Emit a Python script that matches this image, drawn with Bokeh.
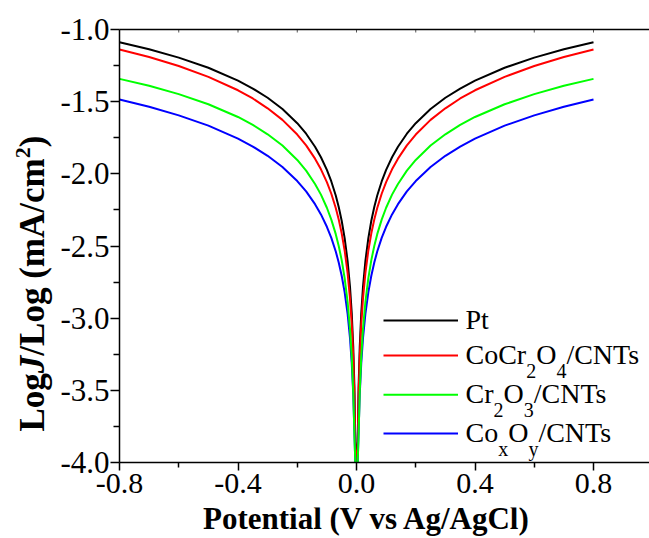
import math
from bokeh.plotting import figure
from bokeh.layouts import column, row
from bokeh.models import Label, LinearAxis, FixedTicker, PrintfTickFormatter, Range1d
from bokeh.embed import file_html
from bokeh.resources import INLINE

# ---------------- data ----------------
potential = [-0.8, -0.7, -0.6, -0.5, -0.4, -0.35, -0.3, -0.25, -0.2, -0.17, -0.14, -0.12,
             -0.1, -0.085, -0.07, -0.06, -0.05, -0.04, -0.03, -0.022, -0.016, -0.011,
             -0.007, -0.004,
             0.0,
             0.004, 0.007, 0.011, 0.016, 0.022, 0.03, 0.04, 0.05, 0.06, 0.07, 0.085,
             0.1, 0.12, 0.14, 0.17, 0.2, 0.25, 0.3, 0.35, 0.4, 0.5, 0.6, 0.7, 0.8]

pt = [-1.088, -1.137, -1.195, -1.265, -1.354, -1.409, -1.473, -1.551, -1.649, -1.722, -1.812, -1.885,
      -1.973, -2.053, -2.150, -2.230, -2.325, -2.445, -2.604, -2.781, -2.968, -3.196,
      -3.483, -3.855,
      -4.000,
      -3.855, -3.483, -3.196, -2.968, -2.781, -2.604, -2.445, -2.325, -2.230, -2.150, -2.053,
      -1.973, -1.885, -1.812, -1.722, -1.649, -1.551, -1.473, -1.409, -1.354, -1.265, -1.195, -1.137, -1.088]

cocr2o4 = [-1.139, -1.191, -1.253, -1.328, -1.421, -1.478, -1.546, -1.626, -1.728, -1.803, -1.895, -1.969,
           -2.058, -2.138, -2.237, -2.316, -2.412, -2.531, -2.688, -2.862, -3.045, -3.268,
           -3.545, -3.903,
           -4.000,
           -3.903, -3.545, -3.268, -3.045, -2.862, -2.688, -2.531, -2.412, -2.316, -2.237, -2.138,
           -2.058, -1.969, -1.895, -1.803, -1.728, -1.626, -1.546, -1.478, -1.421, -1.328, -1.253, -1.191, -1.139]

cr2o3 = [-1.342, -1.390, -1.448, -1.518, -1.606, -1.661, -1.726, -1.804, -1.904, -1.978, -2.070, -2.144,
         -2.235, -2.317, -2.418, -2.500, -2.598, -2.723, -2.888, -3.073, -3.269, -3.509,
         -3.812, -4.000,
         -4.000,
         -4.000, -3.812, -3.509, -3.269, -3.073, -2.888, -2.723, -2.598, -2.500, -2.418, -2.317,
         -2.235, -2.144, -2.070, -1.978, -1.904, -1.804, -1.726, -1.661, -1.606, -1.518, -1.448, -1.390, -1.342]

coxoy = [-1.485, -1.535, -1.595, -1.666, -1.756, -1.811, -1.875, -1.953, -2.050, -2.122, -2.210, -2.281,
         -2.367, -2.444, -2.538, -2.614, -2.706, -2.820, -2.971, -3.137, -3.313, -3.526,
         -3.792, -4.000,
         -4.000,
         -4.000, -3.792, -3.526, -3.313, -3.137, -2.971, -2.820, -2.706, -2.614, -2.538, -2.444,
         -2.367, -2.281, -2.210, -2.122, -2.050, -1.953, -1.875, -1.811, -1.756, -1.666, -1.595, -1.535, -1.485]

x_ticks = [-0.8, -0.4, 0.0, 0.4, 0.8]
x_minor_ticks = [-0.6, -0.2, 0.2, 0.6]
top_ticks = [-0.8, -0.6, -0.4, -0.2, 0.0, 0.2, 0.4, 0.6, 0.8]
y_ticks = [-4.0, -3.5, -3.0, -2.5, -2.0, -1.5, -1.0]
y_minor_ticks = [-3.75, -3.25, -2.75, -2.25, -1.75, -1.25]

x_title = "Potential (V vs Ag/AgCl)"

# ---------------- layout constants (picture pixels) ----------------
FONT = "Liberation Serif"
PAGE_W, PAGE_H = 649, 536
YFIG_W = 54
MAIN_H = 507
X_START, Y_START, Y_END = -0.8, -4.0, -1.0
FRAME_LEFT, FRAME_TOP, FRAME_BOTTOM = 119, 29, 462
PX_PER_X = 296.25
PX_PER_Y = (FRAME_BOTTOM - FRAME_TOP) / (Y_END - Y_START)
X_END = X_START + (PAGE_W - FRAME_LEFT) / PX_PER_X
BASELINE_FIX = 0.33   # Label anchor sits this many em below the drawn baseline


def dx(px):
    return X_START + (px - FRAME_LEFT) / PX_PER_X


def dy(py):
    return Y_END - (py - FRAME_TOP) / PX_PER_Y


def strip(w, h, top, bottom, y_range):
    f = figure(width=w, height=h, x_range=Range1d(0, w), y_range=y_range, title=None,
               output_backend="svg", toolbar_location=None,
               x_axis_location=None, y_axis_location=None,
               min_border=0, min_border_left=0, min_border_right=0,
               min_border_top=top, min_border_bottom=bottom)
    f.outline_line_color = None
    f.background_fill_color = "white"
    f.border_fill_color = "white"
    f.xgrid.visible = False
    f.ygrid.visible = False
    return f


# ---------------- main plot ----------------
p = figure(width=PAGE_W - YFIG_W, height=MAIN_H, title=None,
           x_range=Range1d(X_START, X_END), y_range=Range1d(Y_START, Y_END),
           output_backend="svg", toolbar_location=None,
           min_border_left=FRAME_LEFT - YFIG_W, min_border_right=0,
           min_border_top=FRAME_TOP, min_border_bottom=MAIN_H - FRAME_BOTTOM)
p.outline_line_color = None
p.xgrid.visible = False
p.ygrid.visible = False
p.background_fill_color = "white"
p.border_fill_color = "white"

xa = p.xaxis[0]
xa.ticker = FixedTicker(ticks=x_ticks, minor_ticks=x_minor_ticks)
xa.formatter = PrintfTickFormatter(format="%.1f")
xa.major_tick_out, xa.major_tick_in = 8, 0
xa.minor_tick_out, xa.minor_tick_in = 5, 0
ya = p.yaxis[0]
ya.ticker = FixedTicker(ticks=y_ticks, minor_ticks=y_minor_ticks)
ya.formatter = PrintfTickFormatter(format="%.1f")
ya.major_tick_out, ya.major_tick_in = 9, 0
ya.minor_tick_out, ya.minor_tick_in = 6, 0
for ax, size in ((xa, "30px"), (ya, "31px")):
    ax.axis_line_width = 1.5
    ax.major_tick_line_width = 1.5
    ax.minor_tick_line_width = 1.5
    ax.axis_line_color = "black"
    ax.major_tick_line_color = "black"
    ax.minor_tick_line_color = "black"
    ax.major_label_text_font = FONT
    ax.major_label_text_font_size = size
    ax.major_label_text_color = "black"
xa.major_label_standoff = 3
ya.major_label_standoff = 1

# top spine (line only) + tiny inward tick marks
top = LinearAxis(ticker=FixedTicker(ticks=[], minor_ticks=[]),
                 axis_line_color="black", axis_line_width=1.5)
p.add_layout(top, "above")
p.segment(x0=top_ticks, y0=[Y_END] * len(top_ticks),
          x1=top_ticks, y1=[dy(FRAME_TOP + 3)] * len(top_ticks),
          line_color="#555555", line_width=1)

# ---------------- curves ----------------
p.line(potential, pt, line_color="#000000", line_width=2)
p.line(potential, cocr2o4, line_color="#ff0000", line_width=2)
p.line(potential, coxoy, line_color="#0000ff", line_width=2)
p.line(potential, cr2o3, line_color="#00ff00", line_width=2)

# ---------------- legend (hand-built for subscripts) ----------------
REG = {"C": .667, "o": .5, "r": .333, "O": .722, "/": .278, "N": .722, "T": .611,
       "s": .389, "P": .556, "t": .278, "2": .5, "3": .5, "4": .5, "x": .5, "y": .5}
MAIN_SIZE, SUB_SIZE = 28, 20
legend_rows = [
    ("#000000", [("Pt", False)]),
    ("#ff0000", [("CoCr", False), ("2", True), ("O", False), ("4", True), ("/CNTs", False)]),
    ("#00ff00", [("Cr", False), ("2", True), ("O", False), ("3", True), ("/CNTs", False)]),
    ("#0000ff", [("Co", False), ("x", True), ("O", False), ("y", True), ("/CNTs", False)]),
]
row_line_px = [320.0, 355.0, 394.3, 433.0]
LINE_X0, LINE_X1, TEXT_X = 383.0, 457.5, 465.0
BASE_BELOW_LINE, SUB_DROP = 8.3, 13.4

for (color, parts), ly in zip(legend_rows, row_line_px):
    p.line([dx(LINE_X0), dx(LINE_X1)], [dy(ly), dy(ly)], line_color=color, line_width=2)
    cx = TEXT_X
    base = ly + BASE_BELOW_LINE
    for txt, sub in parts:
        size = SUB_SIZE if sub else MAIN_SIZE
        by = base + (SUB_DROP if sub else 0.0) - BASELINE_FIX * size
        p.add_layout(Label(x=dx(cx), y=dy(by), text=txt, text_font=FONT,
                           text_font_size=f"{size}px", text_color="black",
                           text_align="left", text_baseline="alphabetic"))
        cx += sum(REG.get(ch, .5) for ch in txt) * size

# ---------------- y title (own strip, frame aligned with the main frame) ----------------
# data y in this strip = minus the picture's pixel row
yfig = strip(YFIG_W, MAIN_H, FRAME_TOP, MAIN_H - FRAME_BOTTOM,
             Range1d(-FRAME_BOTTOM, -FRAME_TOP))
BOLD = {"L": .667, "o": .5, "g": .5, "J": .5, "/": .278, " ": .25, "(": .333,
        "m": .833, "A": .722, "c": .444, ")": .333, "2": .5}
YT_SIZE, YT_SUP = 35, 22
y_title_parts = [("Log", "bold", False), ("J", "bold italic", False),
                 ("/Log (mA/cm", "bold", False), ("2", "bold", True), (")", "bold", False)]
cy = 431.0
BASE_X = 43.3
for txt, style, sup in y_title_parts:
    size = YT_SUP if sup else YT_SIZE
    bx = BASE_X - (14.0 if sup else 0.0) - BASELINE_FIX * size
    yfig.add_layout(Label(x=bx, y=-cy, text=txt, text_font=FONT,
                          text_font_style=style, text_font_size=f"{size}px",
                          text_color="black", angle=math.pi / 2,
                          text_align="left", text_baseline="alphabetic"))
    cy -= sum(BOLD.get(ch, .5) for ch in txt) * size

# ---------------- x title (own strip) ----------------
XFIG_H = PAGE_H - MAIN_H
xfig = strip(PAGE_W, XFIG_H, 0, 0, Range1d(-PAGE_H, -MAIN_H))
XT_SIZE = 31
xfig.add_layout(Label(x=366.5, y=-(528.5 - BASELINE_FIX * XT_SIZE), text=x_title,
                      text_font=FONT, text_font_style="bold", text_font_size=f"{XT_SIZE}px",
                      text_color="black", text_align="center", text_baseline="alphabetic"))

layout = column(row(yfig, p), xfig)
open("out.html", "w").write(file_html(layout, INLINE))
